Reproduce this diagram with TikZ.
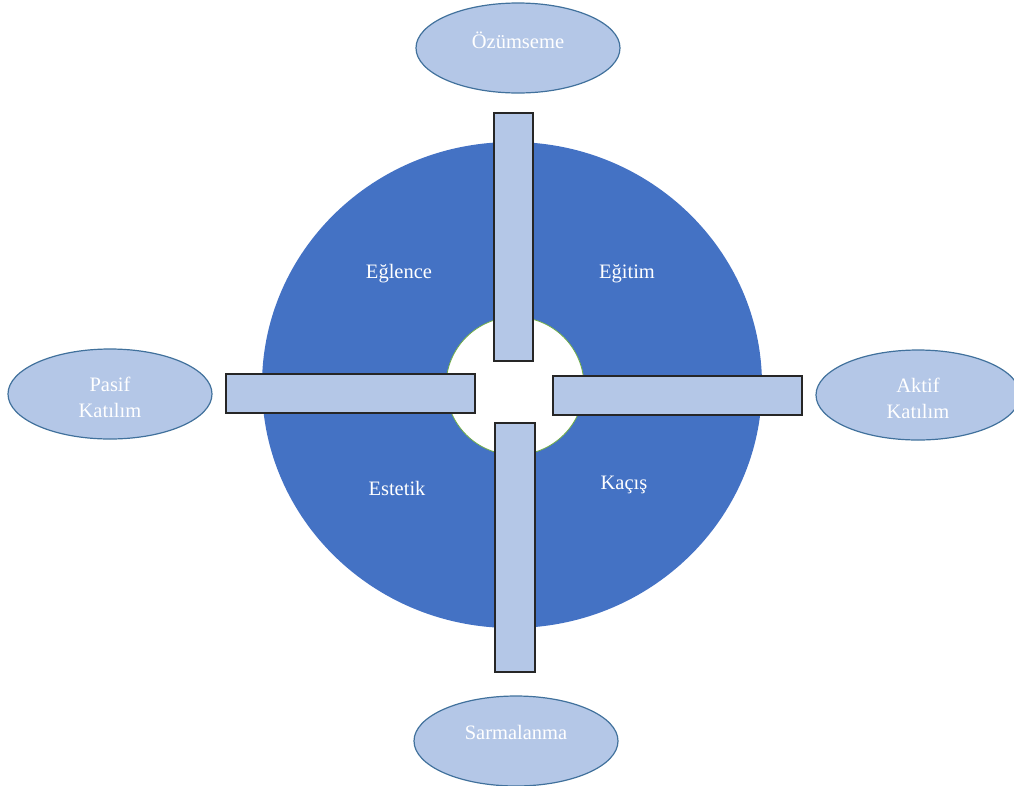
\documentclass[tikz,border=0pt]{standalone}
\usepackage{fontspec}
\setmainfont{Liberation Serif}
\usetikzlibrary{shapes.geometric}
\definecolor{ringblue}{HTML}{4472C4}
\definecolor{paleblue}{HTML}{B4C7E7}
\definecolor{rimblue}{HTML}{41719C}
\definecolor{holegreen}{HTML}{70AD47}

\begin{document}
\begin{tikzpicture}[x=1pt,y=-1pt,
    every node/.style={font=\fontsize{20.5}{26}\selectfont},
    bar/.style={draw=black!85,line width=1.2pt,fill=paleblue,inner sep=0pt},
    oval/.style={ellipse,draw=rimblue,line width=1.2pt,fill=paleblue,inner sep=0pt,
      minimum width=204pt,minimum height=90pt},
    word/.style={text=white}]
        \useasboundingbox (0,0) rectangle (1014,785);
        % ring
        \fill[ringblue] (512,385) ellipse (250 and 243);
        \draw[holegreen,fill=white,line width=.8pt] (515,386) circle (69);

        % the four bars
        \node[bar,minimum width=39pt,minimum height=248pt] (barN) at (513.5,237) {};
        \node[bar,minimum width=40pt,minimum height=249pt] (barS) at (515,547.5) {};
        \node[bar,minimum width=249pt,minimum height=39pt] (barW) at (350.5,393.5) {};
        \node[bar,minimum width=249pt,minimum height=39pt] (barE) at (677.5,395.5) {};

        % quadrant words
        \foreach \n/\x/\y/\t in {egl/399/274/Eğlence,egi/627/274/Eğitim,
                                 est/397/488/Estetik,kac/624/485/Kaçış}
        {
          \node[word] (\n) at (\x,\y) {\t};
        }

        % outer ovals
        \foreach \n/\x/\y/\s/\t in {ozu/518/48/8/Özümseme,sar/516/741/9/Sarmalanma,
                                 pas/110/394/-3/{Pasif\\Katılım},akt/918/395/-3/{Aktif\\Katılım}}
        {
          \node[oval,label={[word,align=center,yshift=\s pt]center:\t}] (\n) at (\x,\y) {};
        }
\end{tikzpicture}
\end{document}
